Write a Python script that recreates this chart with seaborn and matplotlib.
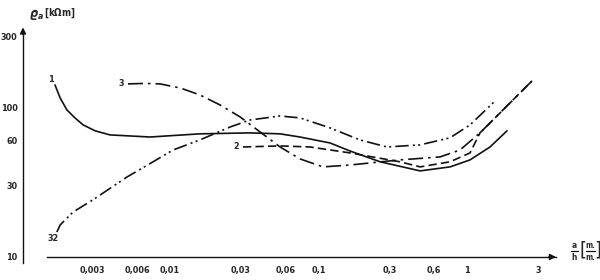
import pandas as pd
import seaborn as sns
import matplotlib.pyplot as plt
from matplotlib.lines import Line2D
import numpy as np

# curve 1 (solid)
x1 = [0.00168, 0.00182, 0.00202, 0.00229, 0.0026, 0.00313, 0.00394, 0.00733, 0.0159, 0.0346,
      0.0551, 0.075, 0.1195, 0.163, 0.26, 0.483, 0.768, 1.048, 1.429, 1.859]
y1 = [142.6, 116.7, 97.0, 85.7, 76.9, 70.2, 65.9, 63.8, 67.0, 68.0,
      67.0, 63.8, 58.2, 51.4, 43.5, 37.8, 40.2, 44.8, 54.7, 70.2]

# curve 2 (dashed)
x2 = [0.031, 0.0551, 0.0877, 0.163, 0.354, 0.483, 0.768, 1.048, 1.223, 1.668, 2.274, 2.739]
y2 = [54.7, 55.6, 54.7, 49.9, 43.5, 40.2, 43.5, 49.9, 68.0, 92.5, 126.2, 151.7]

# curve 3 (dash-dot)
x3 = [0.00521, 0.00679, 0.00857, 0.01168, 0.0159, 0.0217, 0.0296, 0.0404, 0.0551,
      0.075, 0.1072, 0.163, 0.354, 0.658, 0.897, 1.223, 1.668, 2.739]
y3 = [144.9, 146.0, 144.9, 136.2, 122.2, 104.7, 87.1, 69.0, 54.7,
      45.5, 40.2, 41.4, 44.8, 46.9, 52.2, 68.0, 92.5, 151.7]

# curve 32 (dash-dot-dot)
x32 = [0.00173, 0.00182, 0.00222, 0.00303, 0.00513, 0.00769, 0.01048, 0.0159, 0.0254,
       0.0346, 0.0551, 0.075, 0.1195, 0.19, 0.289, 0.483, 0.768, 1.048, 1.52]
y32 = [14.7, 16.4, 20.0, 24.2, 34.4, 43.5, 52.2, 61.0, 74.5,
       83.0, 88.3, 85.7, 73.5, 61.0, 54.7, 56.5, 63.0, 76.9, 109.6]

xticks_major = [0.01, 0.1, 1]
xticks_minor = [0.003, 0.006, 0.03, 0.06, 0.3, 0.6, 3]
yticks = [10, 30, 60, 100, 300]

curves = {'1': (x1, y1), '2': (x2, y2), '3': (x3, y3), '32': (x32, y32)}
df = pd.concat([pd.DataFrame({'x': v[0], 'y': v[1], 'curve': k}) for k, v in curves.items()])

sns.set_style('white')
plt.rcParams['font.family'] = ['DejaVu Sans']
plt.rcParams['font.stretch'] = 'condensed'
plt.rcParams['font.weight'] = 'bold'

fig = plt.figure(figsize=(6, 2.8), dpi=100)
ax = fig.add_axes([23 / 600, 1 - 263 / 280, (565 - 23) / 600, (263 - 25) / 280])

dashes = {'1': '', '2': (5, 2.5), '3': (9, 3, 1.5, 3), '32': (8, 2.5, 1.2, 2, 1.2, 2.5)}
sns.lineplot(data=df, x='x', y='y', hue='curve', style='curve', dashes=dashes,
             palette=['#111111'] * 4, estimator=None, sort=False, legend=False,
             linewidth=1.2, ax=ax)

ax.set_xscale('log')
ax.set_yscale('log')
ax.set_xlim(0.001023, 4.57)
ax.set_ylim(9.11, 360)

# axes look like a hand drawn cross
for s in ['top', 'right']:
    ax.spines[s].set_visible(False)
ax.spines['bottom'].set_position(('data', 10))
ax.spines['bottom'].set_bounds(0.00148, 4.0)
ax.spines['left'].set_bounds(9.11, 330)
for s in ['bottom', 'left']:
    ax.spines[s].set_color('#111111')
    ax.spines[s].set_linewidth(1.0)

ax.annotate('', xy=(0.001023, 362), xytext=(0.001023, 300), annotation_clip=False,
            arrowprops=dict(arrowstyle='-|>', color='#111111', lw=1.0, mutation_scale=9))
ax.annotate('', xy=(4.15, 10), xytext=(3.4, 10), annotation_clip=False,
            arrowprops=dict(arrowstyle='-|>', color='#111111', lw=1.0, mutation_scale=9))

fs = 6.5
ax.set_xticks(xticks_major)
ax.set_xticks(xticks_minor, minor=True)
ax.set_xticklabels([str(v).replace('.', ',') for v in xticks_major], fontsize=fs, fontweight='bold')
ax.set_xticklabels([str(v).replace('.', ',') for v in xticks_minor], minor=True, fontsize=fs, fontweight='bold')
ax.set_yticks(yticks)
ax.set_yticks([], minor=True)
ax.set_yticklabels([str(v) for v in yticks], fontsize=fs, fontweight='bold')
ax.tick_params(axis='x', which='major', direction='inout', length=9, width=1, pad=2)
ax.tick_params(axis='x', which='minor', direction='inout', length=5, width=1, pad=4)
ax.tick_params(axis='y', direction='inout', length=8, width=1, pad=0)
ax.set_xlabel('')
ax.set_ylabel('')

# curve numbers at the start of each line
offs = {'1': (-3, 4), '2': (-3, 0), '3': (-3, 0), '32': (-3, -5)}
for k, (xs, ys) in curves.items():
    ax.annotate(k, xy=(xs[0], ys[0]), xytext=offs[k], textcoords='offset points',
                ha='right' if k in ('2', '3') else 'center', va='center',
                fontsize=fs, fontweight='bold')

# axis titles
def px(x, y):
    return x / 600, 1 - y / 280

fig.text(*px(29, 14), r'$\varrho_a$', fontsize=9, ha='left', va='center')
fig.text(*px(44, 13), r'$\left[\mathbf{k\Omega m}\right]$', fontsize=7, ha='left', va='center')

fig.text(*px(574.5, 245), 'a', fontsize=6, ha='center', va='center')
fig.text(*px(574.5, 257), 'h', fontsize=6, ha='center', va='center')
fig.add_artist(Line2D([571 / 600, 578 / 600], [1 - 251 / 280] * 2, color='#111111', lw=0.9))
fig.text(*px(583, 250.5), '[', fontsize=14, fontweight='normal', ha='center', va='center')
fig.text(*px(590.5, 245), 'm.', fontsize=5.5, ha='center', va='center')
fig.text(*px(590.5, 257), 'm.', fontsize=5.5, ha='center', va='center')
fig.add_artist(Line2D([586 / 600, 595 / 600], [1 - 251 / 280] * 2, color='#111111', lw=0.9))
fig.text(*px(597.5, 250.5), ']', fontsize=14, fontweight='normal', ha='center', va='center')

fig.savefig('out.png', dpi=100)
